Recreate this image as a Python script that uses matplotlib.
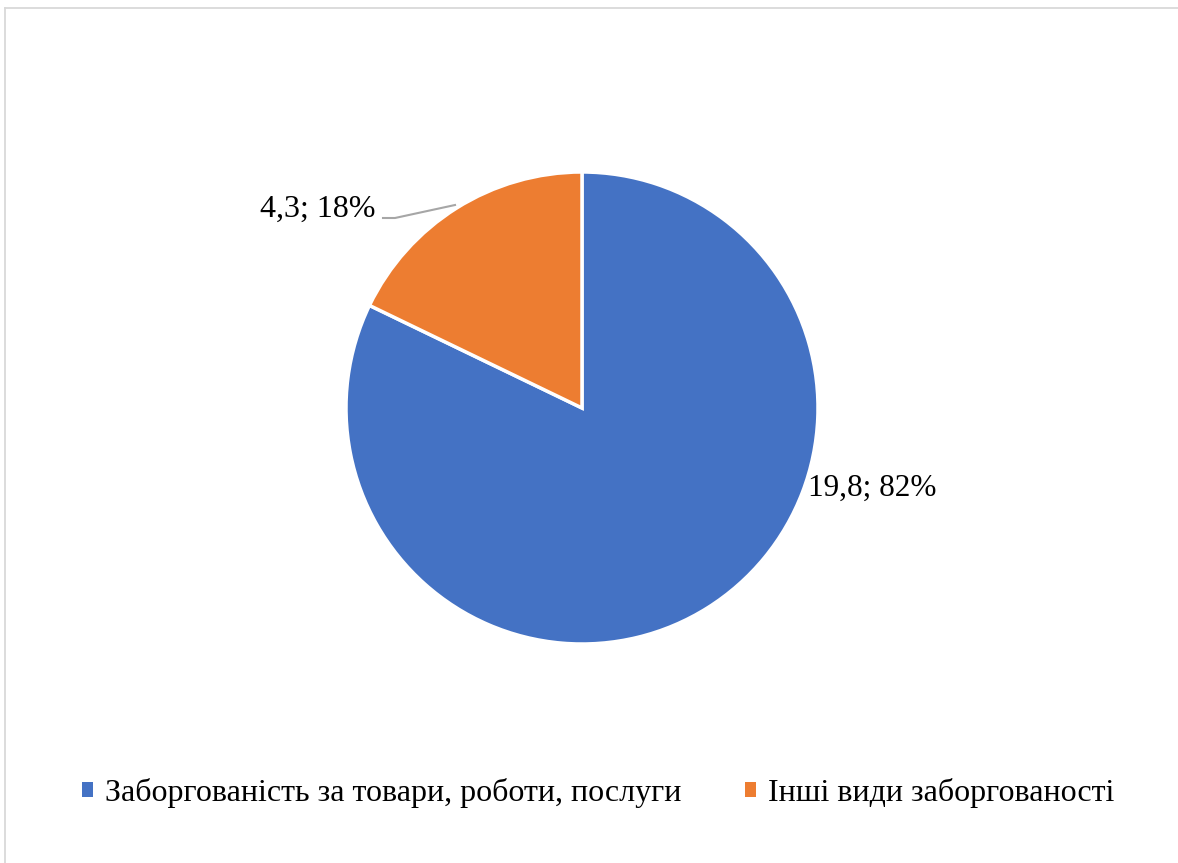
import matplotlib
matplotlib.use("Agg")
import matplotlib.pyplot as plt
from matplotlib.patches import Rectangle
from matplotlib.lines import Line2D

categories = ["Заборгованість за товари, роботи, послуги", "Інші види заборгованості"]
values = [19.8, 4.3]
value_labels = ["19,8", "4,3"]
colors = ["#4472C4", "#ED7D31"]

plt.rcParams['font.family'] = ['Liberation Serif', 'DejaVu Serif']

W, H = 1178, 863
fig = plt.figure(figsize=(W / 100, H / 100), dpi=100)
fig.patch.set_facecolor("white")

# outer frame (only top and left edges visible)
fig.lines.append(Line2D([5 / W, 1.0], [1 - 8 / H, 1 - 8 / H], transform=fig.transFigure,
                        color="#D9D9D9", linewidth=1.3))
fig.lines.append(Line2D([5 / W, 5 / W], [0.0, 1 - 8 / H], transform=fig.transFigure,
                        color="#D9D9D9", linewidth=1.3))

cx, cy, r = 582, 408, 236
ax = fig.add_axes([(cx - r) / W, (H - cy - r) / H, 2 * r / W, 2 * r / H])
wedges, _ = ax.pie(values, colors=colors, startangle=90, counterclock=False,
                   wedgeprops=dict(edgecolor="white", linewidth=2.5), radius=1.0)
ax.set_xlim(-1, 1)
ax.set_ylim(-1, 1)
ax.set_aspect("equal")
ax.axis("off")

total = sum(values)
pcts = [round(v / total * 100) for v in values]
lab = [f"{value_labels[i]}; {pcts[i]}%" for i in range(2)]

def px2data(x, y):
    return ((x - cx) / r, (cy - y) / r)

x0, y0 = px2data(808, 488)
ax.text(x0, y0, lab[0], fontsize=22.5, ha="left", va="center", clip_on=False)
x1, y1 = px2data(376, 209)
ax.text(x1, y1, lab[1], fontsize=23, ha="right", va="center", clip_on=False)
lx = [px2data(383, 218), px2data(395, 218), px2data(455, 205)]
ax.plot([p[0] for p in lx], [p[1] for p in lx], color="#A6A6A6", linewidth=1.5, clip_on=False)

# legend
handles = [Rectangle((0, 0), 1, 1, facecolor=c, edgecolor="none") for c in colors]
leg = fig.legend(handles, categories, loc="center", bbox_to_anchor=(598 / W, 1 - 793 / H),
                 ncol=2, frameon=False, fontsize=23, handlelength=0.34, handleheight=0.34,
                 handletextpad=0.37, columnspacing=2.0)

fig.savefig("out.png", dpi=100, facecolor="white")
